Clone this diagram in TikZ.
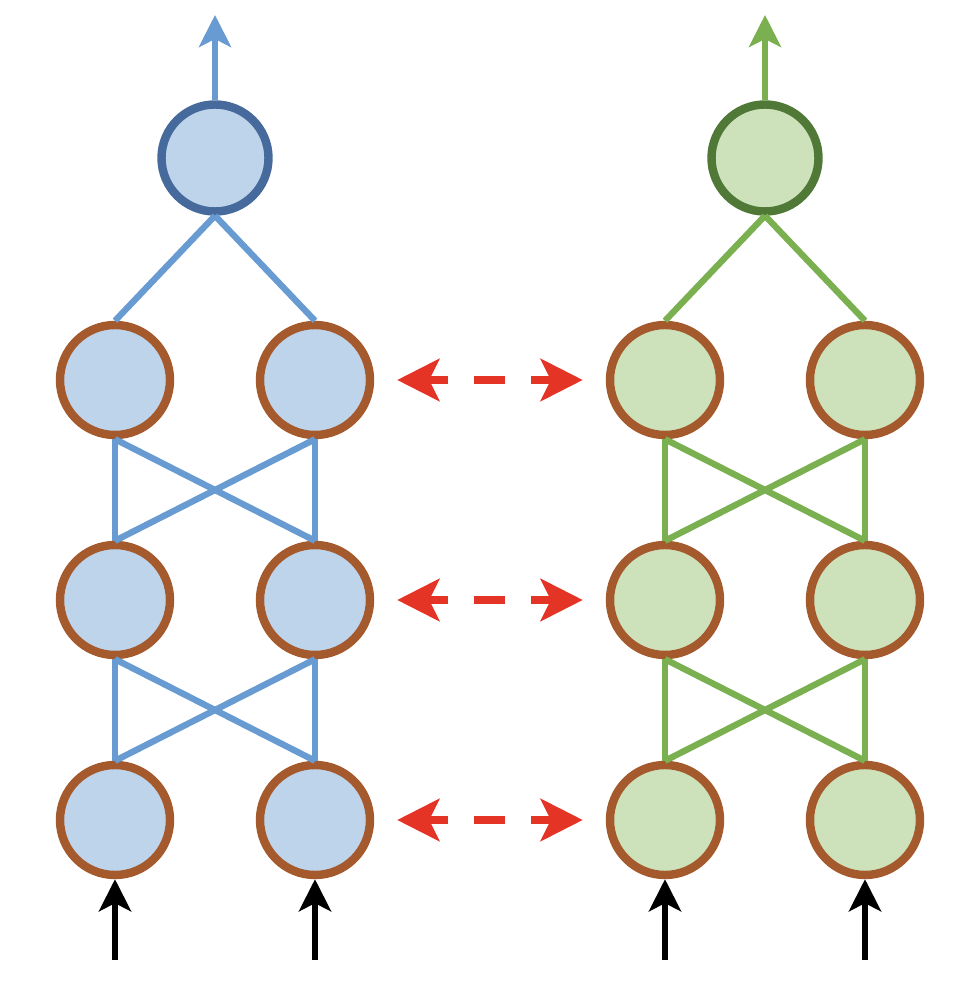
\documentclass[tikz,border=0pt]{standalone}
\usepackage{xcolor}
\usepackage{tikz}
\usetikzlibrary{arrows.meta,positioning}

\definecolor{fillblue}{RGB}{190,212,235}
\definecolor{linkblue}{RGB}{104,155,210}
\definecolor{darkblue}{RGB}{70,106,156}
\definecolor{fillgreen}{RGB}{205,226,187}
\definecolor{linkgreen}{RGB}{122,176,80}
\definecolor{darkgreen}{RGB}{80,120,55}
\definecolor{ringbrown}{RGB}{165,90,45}
\definecolor{arrowred}{RGB}{228,52,38}

\begin{document}
\begin{tikzpicture}[
    on grid,
    node distance=2.2cm,
    unit/.style={circle, draw=ringbrown, line width=2.4pt, minimum size=1.1cm, inner sep=0pt},
    unitblue/.style={unit, fill=fillblue},
    unitgreen/.style={unit, fill=fillgreen},
    outblue/.style={unit, draw=darkblue, fill=fillblue, minimum size=1.07cm},
    outgreen/.style={unit, draw=darkgreen, fill=fillgreen, minimum size=1.07cm},
    linkA/.style={draw=linkblue, line width=1.8pt},
    linkB/.style={draw=linkgreen, line width=1.8pt},
    outarrow/.style={-{Stealth[length=0.32cm, width=0.32cm, inset=0.08cm]}, line width=1.7pt},
    inarrow/.style={-{Stealth[length=0.32cm, width=0.32cm, inset=0.08cm]}, line width=1.8pt, black},
    swap/.style={{Stealth[length=0.42cm, width=0.42cm, inset=0.1cm]}-{Stealth[length=0.42cm, width=0.42cm, inset=0.1cm]},
        arrowred, line width=2.4pt, dash pattern={on 0.21cm off 0.26cm on 0.31cm off 0.26cm},
        shorten <=0.23cm, shorten >=0.23cm}
]
\useasboundingbox (0,0) rectangle (9.64,10.04);

% left network
\node[outblue] (outA) at (2.15,8.46) {};
\node[unitblue, below left=2.22 and 1 of outA] (a1) {};
\node[unitblue, right=2 of a1] (b1) {};
\node[unitblue, below=of a1] (a2) {};
\node[unitblue, below=of b1] (b2) {};
\node[unitblue, below=of a2] (a3) {};
\node[unitblue, below=of b2] (b3) {};

% right network
\node[outgreen, right=5.5 of outA] (outB) {};
\node[unitgreen, right=5.5 of a1] (c1) {};
\node[unitgreen, right=2 of c1] (d1) {};
\node[unitgreen, below=of c1] (c2) {};
\node[unitgreen, below=of d1] (d2) {};
\node[unitgreen, below=of c2] (c3) {};
\node[unitgreen, below=of d2] (d3) {};

\coordinate[above=1.43 of outA] (topA);
\coordinate[above=1.43 of outB] (topB);
\coordinate[below=1.4 of a3] (inA);
\coordinate[below=1.4 of b3] (inB);
\coordinate[below=1.4 of c3] (inC);
\coordinate[below=1.4 of d3] (inD);

\draw[linkA] (outA.south) -- (a1.north);
\draw[linkA] (outA.south) -- (b1.north);
\draw[linkA] (a1.south) -- (a2.north);
\draw[linkA] (a1.south) -- (b2.north);
\draw[linkA] (b1.south) -- (a2.north);
\draw[linkA] (b1.south) -- (b2.north);
\draw[linkA] (a2.south) -- (a3.north);
\draw[linkA] (a2.south) -- (b3.north);
\draw[linkA] (b2.south) -- (a3.north);
\draw[linkA] (b2.south) -- (b3.north);

\draw[linkB] (outB.south) -- (c1.north);
\draw[linkB] (outB.south) -- (d1.north);
\draw[linkB] (c1.south) -- (c2.north);
\draw[linkB] (c1.south) -- (d2.north);
\draw[linkB] (d1.south) -- (c2.north);
\draw[linkB] (d1.south) -- (d2.north);
\draw[linkB] (c2.south) -- (c3.north);
\draw[linkB] (c2.south) -- (d3.north);
\draw[linkB] (d2.south) -- (c3.north);
\draw[linkB] (d2.south) -- (d3.north);

\draw[outarrow, linkblue] (outA.north) -- (topA);
\draw[outarrow, linkgreen] (outB.north) -- (topB);

\draw[inarrow] (inA) -- (a3.south);
\draw[inarrow] (inB) -- (b3.south);
\draw[inarrow] (inC) -- (c3.south);
\draw[inarrow] (inD) -- (d3.south);

\draw[swap] (b1) -- (c1);
\draw[swap] (b2) -- (c2);
\draw[swap] (b3) -- (c3);
\end{tikzpicture}
\end{document}
